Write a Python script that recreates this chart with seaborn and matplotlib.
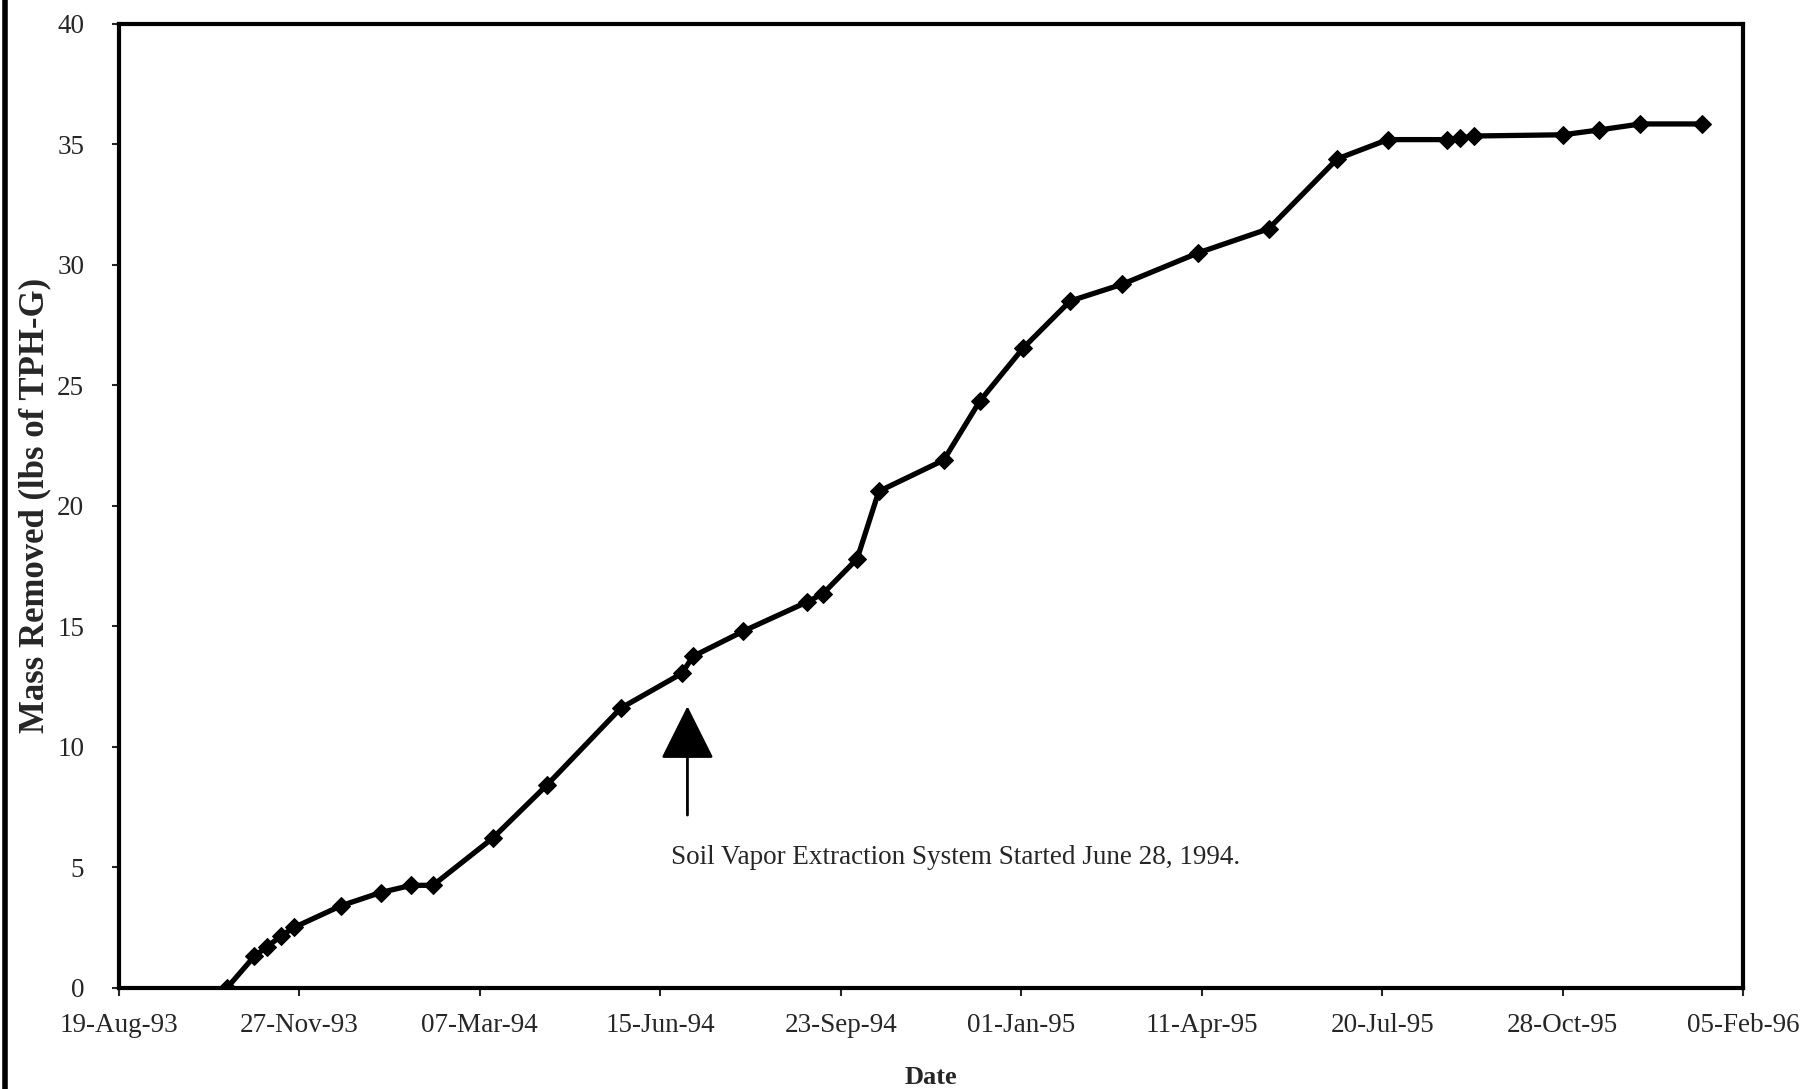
import matplotlib
matplotlib.use("Agg")
import matplotlib.pyplot as plt
import matplotlib.dates as mdates
from matplotlib.lines import Line2D
import seaborn as sns
import pandas as pd

# Sample dates and cumulative mass removed
sample_dates = [
    "1993-10-18", "1993-11-02", "1993-11-09", "1993-11-17", "1993-11-24",
    "1993-12-20", "1994-01-11", "1994-01-28", "1994-02-09", "1994-03-14",
    "1994-04-13", "1994-05-24", "1994-06-27", "1994-07-03", "1994-07-31",
    "1994-09-04", "1994-09-13", "1994-10-02", "1994-10-14", "1994-11-19",
    "1994-12-09", "1995-01-02", "1995-01-28", "1995-02-26", "1995-04-09",
    "1995-05-18", "1995-06-25", "1995-07-23", "1995-08-25", "1995-09-01",
    "1995-09-09", "1995-10-28", "1995-11-17", "1995-12-10", "1996-01-13",
]
mass_removed = [
    0.0, 1.3, 1.7, 2.15, 2.5,
    3.4, 3.95, 4.25, 4.25, 6.2,
    8.4, 11.6, 13.05, 13.75, 14.8,
    16.0, 16.35, 17.8, 20.6, 21.9,
    24.35, 26.55, 28.5, 29.2, 30.5,
    31.5, 34.4, 35.2, 35.2, 35.25,
    35.35, 35.4, 35.6, 35.85, 35.85,
]

tick_dates = [
    "1993-08-19", "1993-11-27", "1994-03-07", "1994-06-15", "1994-09-23",
    "1995-01-01", "1995-04-11", "1995-07-20", "1995-10-28", "1996-02-05",
]
y_ticks = [0, 5, 10, 15, 20, 25, 30, 35, 40]

sve_start = "1994-06-30"
sve_note = "Soil Vapor Extraction System Started June 28, 1994."

df = pd.DataFrame({"date": pd.to_datetime(sample_dates), "mass": mass_removed})
ticks = pd.to_datetime(tick_dates)

sns.set_style("ticks")
plt.rcParams["font.family"] = ["Liberation Serif", "DejaVu Serif"]

fig = plt.figure(figsize=(18.01, 10.89), dpi=100)
ax = fig.add_axes([0.066, 0.093, 0.902, 0.885])

sns.lineplot(data=df, x="date", y="mass", ax=ax, color="black",
             linewidth=3.8, marker="D", markersize=9.5,
             markeredgecolor="black", markerfacecolor="black")

ax.set_xlim(ticks[0], ticks[-1])
ax.set_ylim(0, 40)
ax.set_xticks(ticks)
ax.xaxis.set_major_formatter(mdates.DateFormatter("%d-%b-%y"))
ax.set_yticks(y_ticks)

ax.tick_params(axis="x", labelsize=19.5, length=6, width=1.5, pad=12, direction="out")
ax.tick_params(axis="y", labelsize=19.5, length=5, width=1.5, pad=20, direction="out")

for s in ax.spines.values():
    s.set_visible(True)
    s.set_linewidth(3)
    s.set_color("black")

ax.set_xlabel("Date", fontsize=19, fontweight="bold", labelpad=20)
ax.set_ylabel("Mass Removed (lbs of TPH-G)", fontsize=25, fontweight="bold", labelpad=4)

# Arrow marking SVE start-up
x_arrow = pd.Timestamp(sve_start)
ax.annotate("", xy=(x_arrow, 11.8), xytext=(x_arrow, 7.05),
            arrowprops=dict(arrowstyle="-|>,head_length=1.0,head_width=0.5",
                            mutation_scale=34, color="black", linewidth=2))
ax.text(pd.Timestamp("1994-06-21"), 5.4, sve_note, fontsize=19.5,
        ha="left", va="center")

# scanner edge on the left of the page
fig.add_artist(Line2D([0.003, 0.003], [0, 1], transform=fig.transFigure,
                      color="black", linewidth=4))

fig.savefig("out.png", dpi=100)
